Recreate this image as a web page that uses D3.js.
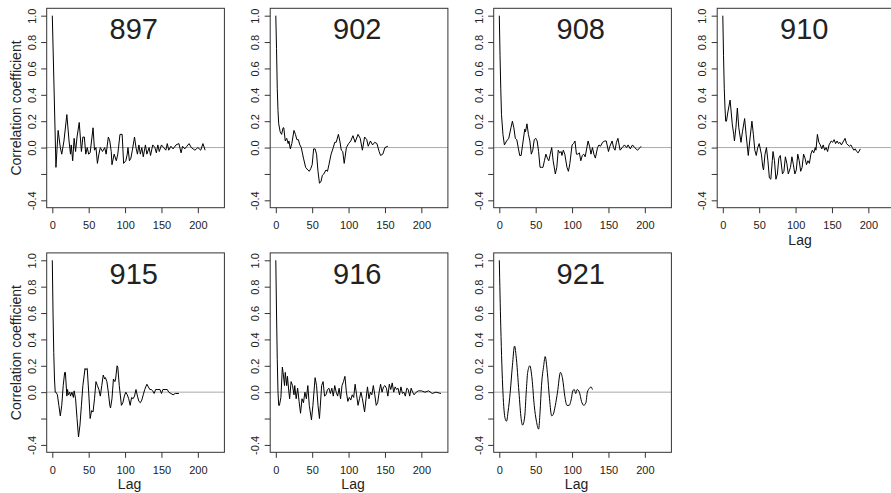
<!DOCTYPE html>
<html>
<head>
<meta charset="utf-8">
<script src="https://cdn.jsdelivr.net/npm/d3@7"></script>
<style>
  body { margin: 0; background: #fff; }
  svg { display: block; font-family: "Liberation Sans", Arial, Helvetica, sans-serif; }
</style>
</head>
<body>
<svg id="chart" width="891" height="493"></svg>
<script>
// panel names, in drawing order (row by row)
const panelIds = ["897", "902", "908", "910", "915", "916", "921"];

// autocorrelation traces: [lag, coefficient]
const s897 = [[0,1.0],[5,-0.15],[8,0.13],[11,0.0],[13,-0.05],[16,0.05],[20,0.25],[23,0.05],[25,-0.05],[26,0.02],
  [28,-0.1],[30,0.07],[32,-0.03],[34,0.08],[37,0.19],[40,-0.03],[42,0.08],[44,0.08],[46,-0.05],[48,0.0],
  [50,-0.05],[52,-0.04],[56,0.15],[58,-0.02],[60,0.0],[62,-0.12],[64,-0.05],[66,0.0],[69,-0.03],[72,0.0],
  [74,-0.05],[77,0.08],[79,0.05],[81,-0.03],[82,-0.13],[85,-0.05],[88,-0.1],[90,-0.05],[93,0.1],[96,0.1],
  [98,-0.12],[101,-0.1],[103,-0.05],[104,0.0],[106,-0.1],[108,-0.08],[110,-0.02],[113,0.08],[115,0.0],[117,-0.05],
  [119,0.02],[121,-0.05],[123,0.0],[125,-0.07],[128,0.02],[130,-0.05],[133,0.0],[135,-0.06],[138,0.02],[141,0.0],
  [143,-0.04],[145,0.02],[147,-0.03],[150,0.02],[153,0.0],[156,-0.02],[158,0.03],[160,-0.02],[163,0.01],[166,-0.01],
  [170,0.02],[174,0.03],[177,-0.04],[179,0.01],[182,-0.01],[185,0.01],[188,0.03],[191,0.0],[196,-0.02],[200,0.0],
  [204,-0.02],[207,0.03],[210,-0.02]];

const s902 = [[0,1.0],[1,0.75],[2,0.45],[3,0.28],[4,0.18],[6,0.12],[8,0.1],[10,0.15],[11,0.15],[13,0.05],
  [15,0.07],[17,0.03],[18,0.05],[20,-0.01],[22,0.03],[25,0.13],[27,0.1],[29,0.06],[31,0.06],[33,0.02],
  [35,0.0],[38,-0.08],[41,-0.15],[44,-0.17],[46,-0.18],[48,-0.16],[50,-0.13],[52,-0.01],[54,-0.01],[56,-0.05],
  [58,-0.18],[60,-0.27],[62,-0.26],[64,-0.21],[66,-0.2],[69,-0.17],[71,-0.18],[73,-0.13],[76,-0.05],[79,0.0],
  [81,0.04],[83,0.04],[86,0.1],[88,0.05],[90,-0.02],[92,-0.03],[94,-0.12],[97,0.0],[100,0.03],[103,0.05],
  [106,0.09],[109,0.04],[113,0.1],[116,0.07],[119,-0.02],[122,0.08],[125,0.06],[127,0.01],[130,0.05],[133,0.02],
  [136,0.04],[139,0.03],[142,-0.03],[144,-0.06],[147,-0.05],[150,0.0],[154,0.01]];

const s908 = [[0,1.0],[1,0.7],[2,0.45],[3,0.25],[5,0.1],[7,0.02],[10,0.05],[13,0.07],[16,0.15],[18,0.2],
  [20,0.15],[22,0.07],[24,0.06],[26,0.0],[28,-0.06],[30,-0.06],[32,0.02],[35,0.14],[36,0.12],[38,0.18],
  [40,0.1],[42,0.05],[44,-0.05],[46,-0.02],[48,0.06],[50,0.07],[52,0.05],[54,-0.03],[56,-0.15],[58,-0.15],
  [60,-0.15],[62,-0.1],[64,-0.05],[66,-0.08],[68,-0.1],[70,-0.05],[72,0.0],[74,-0.1],[77,-0.2],[79,-0.15],
  [81,-0.02],[83,-0.04],[85,-0.03],[86,-0.06],[88,-0.02],[90,-0.05],[93,-0.15],[95,-0.18],[97,-0.12],[100,0.02],
  [102,0.03],[104,0.05],[106,-0.05],[108,-0.05],[110,-0.04],[112,-0.1],[114,-0.06],[116,-0.05],[118,-0.07],[122,0.05],
  [124,0.01],[126,-0.05],[128,0.0],[130,-0.05],[132,-0.08],[135,0.0],[137,0.02],[139,0.01],[142,0.04],[145,0.05],
  [147,0.05],[150,-0.03],[152,0.01],[155,0.05],[157,0.0],[159,-0.02],[161,0.04],[163,0.07],[166,-0.02],[169,0.0],
  [172,0.02],[175,0.0],[177,0.02],[180,-0.01],[183,0.02],[186,0.0],[190,-0.02],[195,0.01]];

const s910 = [[0,1.0],[1,0.7],[2,0.45],[3,0.3],[4,0.2],[5,0.2],[7,0.27],[10,0.36],[13,0.18],[15,0.1],
  [16,0.05],[18,0.15],[20,0.3],[22,0.15],[25,0.04],[27,0.12],[30,0.22],[32,0.1],[35,-0.06],[37,0.05],
  [40,0.2],[42,0.1],[44,-0.02],[46,-0.06],[48,0.0],[50,0.03],[53,-0.05],[55,-0.15],[56,-0.17],[58,-0.05],
  [60,0.0],[62,-0.1],[64,-0.23],[66,-0.24],[68,-0.1],[69,-0.03],[71,-0.1],[73,-0.24],[75,-0.2],[77,-0.08],
  [79,-0.06],[82,-0.2],[84,-0.18],[86,-0.07],[88,-0.12],[90,-0.2],[93,-0.15],[95,-0.07],[97,-0.13],[99,-0.2],
  [101,-0.17],[103,-0.05],[105,-0.1],[107,-0.18],[109,-0.15],[111,-0.05],[113,-0.08],[115,-0.13],[117,-0.1],[119,-0.12],
  [121,-0.05],[123,-0.02],[125,-0.04],[127,0.0],[128,-0.02],[130,0.1],[132,0.04],[134,0.02],[136,-0.01],[138,0.02],
  [140,-0.02],[142,0.0],[144,-0.03],[146,0.02],[149,0.05],[151,0.04],[153,0.06],[155,0.03],[157,0.05],[159,0.03],
  [161,0.04],[163,0.02],[166,0.05],[168,0.07],[170,0.03],[172,0.02],[174,0.01],[176,0.02],[178,0.0],[180,-0.02],
  [182,-0.01],[184,-0.03],[186,-0.04],[189,-0.01]];

const s915 = [[0,1.0],[1,0.6],[2,0.3],[3,0.1],[4,0.0],[5,0.0],[7,-0.02],[9,-0.1],[11,-0.18],[13,-0.1],
  [15,0.05],[17,0.15],[18,0.15],[20,-0.03],[21,0.02],[22,-0.02],[24,0.0],[25,-0.03],[27,0.0],[29,-0.04],
  [30,0.01],[32,-0.05],[34,-0.2],[36,-0.34],[38,-0.25],[40,-0.1],[42,0.05],[45,0.18],[46,0.17],[48,0.18],
  [50,0.0],[52,-0.2],[54,-0.14],[56,-0.15],[58,-0.05],[60,0.08],[62,0.05],[64,0.02],[66,-0.03],[68,0.05],
  [70,0.13],[72,0.1],[73,0.11],[75,0.08],[77,0.0],[79,-0.1],[80,-0.12],[82,-0.05],[84,0.1],[86,0.08],
  [87,0.1],[89,0.2],[90,0.19],[92,0.05],[95,-0.1],[97,-0.08],[99,-0.03],[101,0.0],[103,-0.02],[105,-0.05],
  [107,-0.1],[109,-0.04],[111,-0.05],[113,-0.03],[115,0.02],[117,-0.03],[119,-0.07],[121,-0.08],[123,-0.06],[125,-0.02],
  [127,0.02],[130,0.06],[132,0.04],[134,0.02],[136,0.02],[138,0.01],[140,-0.01],[142,0.02],[145,0.02],[148,0.02],
  [150,-0.01],[152,0.02],[155,0.02],[158,0.02],[160,0.0],[163,-0.01],[166,-0.02],[169,-0.01],[174,-0.01]];

const s916 = [[0,1.0],[1,0.6],[2,0.25],[3,0.0],[4,-0.1],[5,-0.1],[7,-0.04],[9,0.19],[10,0.15],[12,0.05],
  [13,0.15],[15,0.05],[16,0.12],[18,0.0],[19,-0.05],[21,0.08],[23,0.05],[25,-0.02],[26,0.05],[28,-0.05],
  [30,0.03],[32,-0.07],[34,-0.16],[36,-0.05],[38,-0.08],[40,0.0],[42,-0.05],[44,0.05],[46,-0.1],[49,-0.21],
  [51,-0.1],[54,0.11],[56,0.05],[58,-0.1],[60,-0.2],[63,0.05],[65,0.08],[67,-0.03],[69,-0.02],[71,0.02],
  [73,0.03],[75,-0.01],[77,0.03],[79,-0.03],[81,0.05],[83,0.0],[85,-0.03],[87,0.03],[89,-0.05],[91,0.05],
  [93,0.08],[95,0.12],[97,0.0],[99,-0.07],[101,-0.04],[103,-0.06],[105,-0.02],[107,-0.04],[109,0.06],[111,-0.02],
  [113,-0.1],[115,-0.05],[117,0.0],[119,-0.05],[122,-0.15],[124,-0.05],[126,0.04],[128,-0.05],[130,0.0],[132,-0.02],
  [134,0.05],[136,-0.02],[138,-0.1],[140,-0.08],[142,0.0],[144,0.06],[146,0.0],[148,0.04],[150,0.05],[152,0.03],
  [154,-0.03],[156,0.06],[158,0.02],[160,0.07],[162,0.0],[164,0.04],[166,0.02],[168,0.03],[170,-0.02],[172,0.04],
  [174,-0.01],[176,0.0],[178,-0.03],[180,0.03],[182,0.02],[184,-0.03],[186,0.03],[188,0.0],[190,-0.02],[193,0.0],
  [196,0.01],[200,0.01],[205,0.0],[210,0.01],[215,-0.01],[220,0.0],[227,-0.01]];

const s921 = [[0,1.0],[2,0.5],[5,0.0],[8,-0.2],[10,-0.22],[12,-0.15],[15,0.0],[18,0.2],[21,0.35],[23,0.28],
  [27,0.0],[30,-0.2],[32,-0.25],[35,-0.18],[37,0.0],[39,0.15],[42,0.2],[45,0.1],[48,-0.1],[51,-0.22],
  [54,-0.28],[56,-0.15],[58,0.05],[61,0.2],[63,0.27],[66,0.15],[69,-0.05],[72,-0.18],[74,-0.17],[77,-0.1],
  [80,0.0],[84,0.15],[87,0.1],[90,-0.03],[93,-0.1],[96,-0.1],[99,-0.05],[101,0.01],[103,0.02],[105,-0.01],
  [107,0.02],[110,0.0],[113,-0.07],[116,-0.1],[119,-0.08],[121,0.0],[124,0.03],[126,0.04],[128,0.02]];

const seriesList = [s897, s902, s908, s910, s915, s916, s921];

// axis ticks
const yTicks = [-0.4, -0.2, 0.0, 0.2, 0.4, 0.6, 0.8, 1.0];
const xTicks = [0, 50, 100, 150, 200];

const svg = d3.select("#chart");

const colStep = 223.5, rowStep = 244.6;
const boxW = 177.7, boxH = 199.4;
const ink = "#222";

panelIds.forEach((id, i) => {
  const col = i % 4, row = Math.floor(i / 4);
  const x0 = 46.7 + col * colStep;
  const y0 = 8.3 + row * rowStep;

  const x = d3.scaleLinear().domain([-7.7, 236.5]).range([x0, x0 + boxW]);
  const y = d3.scaleLinear().domain([-0.456, 1.056]).range([y0 + boxH, y0]);

  const g = svg.append("g");

  // grey zero line
  g.append("line")
    .attr("x1", x0).attr("x2", x0 + boxW)
    .attr("y1", y(0)).attr("y2", y(0))
    .attr("stroke", "#aaa").attr("stroke-width", 1);

  // the acf trace
  const line = d3.line()
    .x(d => x(d[0]))
    .y(d => y(d[1]))
    .curve(id === "921" ? d3.curveMonotoneX : d3.curveLinear);

  g.append("path")
    .datum(seriesList[i])
    .attr("fill", "none")
    .attr("stroke", "#000")
    .attr("stroke-width", 1)
    .attr("stroke-linejoin", "round")
    .attr("d", line);

  // box
  g.append("rect")
    .attr("x", x0).attr("y", y0)
    .attr("width", boxW).attr("height", boxH)
    .attr("fill", "none").attr("stroke", "#333").attr("stroke-width", 1);

  // left axis, labels turned like R does
  const ya = g.append("g")
    .attr("transform", `translate(${x0},0)`)
    .call(d3.axisLeft(y).tickValues(yTicks).tickSize(5.5)
      .tickFormat(d => Math.abs(d + 0.2) < 1e-9 ? "" : d.toFixed(1)));
  ya.select(".domain").remove();
  ya.selectAll("line").attr("stroke", "#333");
  ya.selectAll("text")
    .attr("x", null).attr("dy", "0.35em")
    .attr("transform", "translate(-15,0) rotate(-90)")
    .attr("text-anchor", "middle")
    .attr("fill", ink)
    .style("font-size", "11px")
    .style("font-family", "inherit");

  // bottom axis
  const xa = g.append("g")
    .attr("transform", `translate(0,${y0 + boxH})`)
    .call(d3.axisBottom(x).tickValues(xTicks).tickSize(5.5));
  xa.select(".domain").remove();
  xa.selectAll("line").attr("stroke", "#333");
  xa.selectAll("text")
    .attr("y", 13.5)
    .attr("fill", ink)
    .style("font-size", "11px")
    .style("font-family", "inherit");

  // big panel number
  g.append("text")
    .attr("x", x(112)).attr("y", y(0.82))
    .attr("text-anchor", "middle")
    .attr("fill", ink)
    .style("font-size", "29px")
    .text(id);

  // axis titles only on the outer panels
  if (col === 0) {
    g.append("text")
      .attr("transform", `translate(${x0 - 31},${y0 + boxH / 2}) rotate(-90)`)
      .attr("dy", "0.35em")
      .attr("text-anchor", "middle")
      .attr("fill", ink)
      .style("font-size", "14px")
      .text("Correlation coefficient");
  }
  if (row === 1 || col === 3) {
    g.append("text")
      .attr("x", x0 + boxW / 2 - 6)
      .attr("y", y0 + boxH + 37)
      .attr("text-anchor", "middle")
      .attr("fill", ink)
      .style("font-size", "14px")
      .text("Lag");
  }
});
</script>
</body>
</html>
